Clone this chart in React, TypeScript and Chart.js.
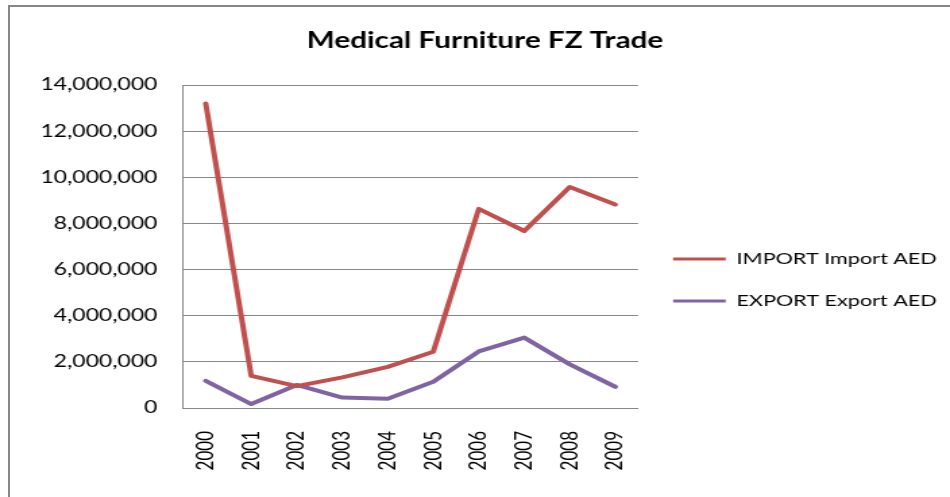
import React, { useEffect, useRef } from 'react';
import { Chart, registerables } from 'chart.js';

Chart.register(...registerables);

const years = ['2000', '2001', '2002', '2003', '2004', '2005', '2006', '2007', '2008', '2009'];
const importAED = [13200000, 1390000, 950000, 1330000, 1780000, 2440000, 8630000, 7670000, 9580000, 8820000];
const exportAED = [1180000, 170000, 1000000, 450000, 400000, 1140000, 2450000, 3050000, 1890000, 920000];
const yMax = 14000000;
const yStep = 2000000;
const titleText = 'Medical Furniture FZ Trade';
const seriesNames = ['IMPORT Import AED', 'EXPORT Export AED'];
const seriesColors = ['#C0504D', '#8064A2'];

const INNER_W = 704;
const H = 497;
const FONT = 'Lato';
const LEGEND_SIZE = 16;
const LEGEND_PAD = 26;
const LEGEND_LINE = 39;
const AREA_LEFT = 135.6;
const AREA_RIGHT = 472.8;
const TITLE_CENTER = 359.4;

export default function App() {
  const ref = useRef<HTMLCanvasElement>(null);

  useEffect(() => {
    if (!ref.current) return;
    const mctx = document.createElement('canvas').getContext('2d')!;
    mctx.font = `${LEGEND_SIZE}px ${FONT}`;
    const textW = Math.max(...seriesNames.map((n) => mctx.measureText(n).width));
    const legendW = LEGEND_PAD + LEGEND_LINE + LEGEND_SIZE / 2 + textW + 10;
    const padRight = INNER_W - AREA_RIGHT - legendW;
    const padLeft = 2 * TITLE_CENTER - INNER_W + padRight;
    const yWidth = AREA_LEFT - padLeft;

    const chart = new Chart(ref.current, {
      type: 'line',
      data: {
        labels: years,
        datasets: [importAED, exportAED].map((d, i) => ({
          label: seriesNames[i],
          data: d,
          borderColor: seriesColors[i],
          backgroundColor: seriesColors[i],
          borderWidth: 4,
          pointRadius: 0,
          pointHoverRadius: 0,
          tension: 0,
          borderJoinStyle: 'round' as const,
          borderCapStyle: 'round' as const,
        })),
      },
      options: {
        responsive: false,
        animation: false,
        devicePixelRatio: 1,
        layout: { padding: { left: padLeft, right: padRight, top: 0, bottom: 0 } },
        plugins: {
          tooltip: { enabled: false },
          title: {
            display: true,
            text: titleText,
            color: '#000',
            font: { family: FONT, size: 22, weight: 'bold' },
            padding: { top: 27.8, bottom: 30.8 },
          },
          legend: {
            position: 'right',
            align: 'center',
            maxWidth: 400,
            title: { display: true, text: '', font: { size: 12 }, padding: { top: 0, bottom: 48.6 } },
            labels: {
              usePointStyle: true,
              pointStyle: 'line',
              pointStyleWidth: LEGEND_LINE,
              padding: LEGEND_PAD,
              color: '#000',
              font: { family: FONT, size: LEGEND_SIZE },
              generateLabels: (c: any) =>
                Chart.defaults.plugins.legend.labels
                  .generateLabels(c)
                  .map((l: any) => ({ ...l, lineWidth: 3 })),
            },
          },
        },
        scales: {
          x: {
            type: 'category',
            offset: true,
            grid: { display: false, drawTicks: false },
            border: { display: true, color: '#878787', width: 1 },
            ticks: {
              minRotation: 90,
              maxRotation: 90,
              autoSkip: false,
              padding: 23,
              color: '#000',
              font: { family: FONT, size: 17 },
            },
            afterFit: (s: any) => {
              s.height = 89;
            },
          },
          y: {
            min: 0,
            max: yMax,
            ticks: {
              stepSize: yStep,
              padding: 19,
              color: '#000',
              font: { family: FONT, size: 17 },
              callback: (v: any) => Number(v).toLocaleString('en-US'),
            },
            grid: { color: '#878787', lineWidth: 1, drawTicks: false },
            border: { display: true, color: '#878787', width: 1 },
            afterFit: (s: any) => {
              s.width = yWidth;
            },
          },
        },
      },
    });
    return () => chart.destroy();
  }, []);

  return (
    <div
      style={{
        position: 'fixed',
        left: 0,
        top: 0,
        width: 950,
        height: H,
        overflow: 'hidden',
        background: '#fff',
      }}
    >
      <div
        style={{
          position: 'absolute',
          left: 8,
          top: 5,
          width: 2000,
          height: 2000,
          border: '2px solid #878787',
        }}
      />
      <canvas
        ref={ref}
        width={INNER_W}
        height={H}
        style={{ position: 'absolute', left: 0, top: 0, width: '950px', height: `${H}px` }}
      />
    </div>
  );
}
